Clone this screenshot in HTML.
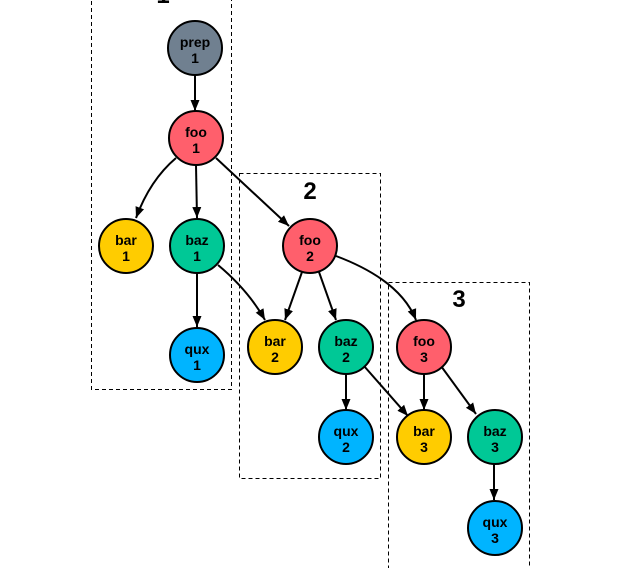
<!DOCTYPE html>
<html><head><meta charset="utf-8"><style>
html,body{margin:0;padding:0;background:#fff;}
svg{display:block;}
text{font-family:"Liberation Sans",Arial,sans-serif;font-weight:bold;}
</style></head><body>
<svg width="621" height="568" viewBox="0 0 621 568" xmlns="http://www.w3.org/2000/svg">
<defs>
<marker id="a" markerWidth="12" markerHeight="12" refX="11" refY="5" orient="auto" markerUnits="userSpaceOnUse">
<path d="M0,0.5 L11,5 L0,9.5 z" fill="#000"/>
</marker>
</defs>
<g fill="none" stroke="#000" stroke-width="1" stroke-dasharray="4,3">
<rect x="91.5" y="-10" width="140" height="399.5"/>
<rect x="239.5" y="173.5" width="141" height="305"/>
<rect x="388.5" y="282.5" width="141" height="300"/>
</g>
<text x="163" y="3" font-size="24" text-anchor="middle">1</text>
<text x="310" y="199" font-size="24" text-anchor="middle">2</text>
<text x="459" y="307" font-size="24" text-anchor="middle">3</text>
<g fill="none" stroke="#000" stroke-width="2" marker-end="url(#a)">
<path d="M195,75 L195,111"/>
<path d="M176,158 Q150,180 136,218"/>
<path d="M196,165 L197,218"/>
<path d="M216,158 L289,226"/>
<path d="M197,273 L197,327"/>
<path d="M218,265 Q248,290 265,320"/>
<path d="M302,272 L285,320"/>
<path d="M319,272 L336,320"/>
<path d="M336,256 Q400,280 416,320"/>
<path d="M346,374 L346,410"/>
<path d="M364,366 L408,416"/>
<path d="M424,374 L424,410"/>
<path d="M441,366 L476,414"/>
<path d="M494,464 L494,500"/>
</g>
<g stroke="#000" stroke-width="2">
<circle cx="195" cy="48" r="27" fill="#708090"/>
<circle cx="196" cy="138" r="27" fill="#ff5f6c"/>
<circle cx="126" cy="246" r="27" fill="#ffcc00"/>
<circle cx="197" cy="246" r="27" fill="#00c896"/>
<circle cx="197" cy="355" r="27" fill="#00b4ff"/>
<circle cx="310" cy="246" r="27" fill="#ff5f6c"/>
<circle cx="275" cy="347" r="27" fill="#ffcc00"/>
<circle cx="346" cy="347" r="27" fill="#00c896"/>
<circle cx="346" cy="437" r="27" fill="#00b4ff"/>
<circle cx="424" cy="347" r="27" fill="#ff5f6c"/>
<circle cx="424" cy="437" r="27" fill="#ffcc00"/>
<circle cx="495" cy="437" r="27" fill="#00c896"/>
<circle cx="495" cy="528" r="27" fill="#00b4ff"/>
</g>
<g font-size="14" text-anchor="middle" fill="#000">
<text x="195" y="47">prep</text><text x="195" y="63">1</text>
<text x="196" y="137">foo</text><text x="196" y="153">1</text>
<text x="126" y="245">bar</text><text x="126" y="261">1</text>
<text x="197" y="245">baz</text><text x="197" y="261">1</text>
<text x="197" y="354">qux</text><text x="197" y="370">1</text>
<text x="310" y="245">foo</text><text x="310" y="261">2</text>
<text x="275" y="346">bar</text><text x="275" y="362">2</text>
<text x="346" y="346">baz</text><text x="346" y="362">2</text>
<text x="346" y="436">qux</text><text x="346" y="452">2</text>
<text x="424" y="346">foo</text><text x="424" y="362">3</text>
<text x="424" y="436">bar</text><text x="424" y="452">3</text>
<text x="495" y="436">baz</text><text x="495" y="452">3</text>
<text x="495" y="527">qux</text><text x="495" y="543">3</text>
</g>
</svg>
</body></html>
